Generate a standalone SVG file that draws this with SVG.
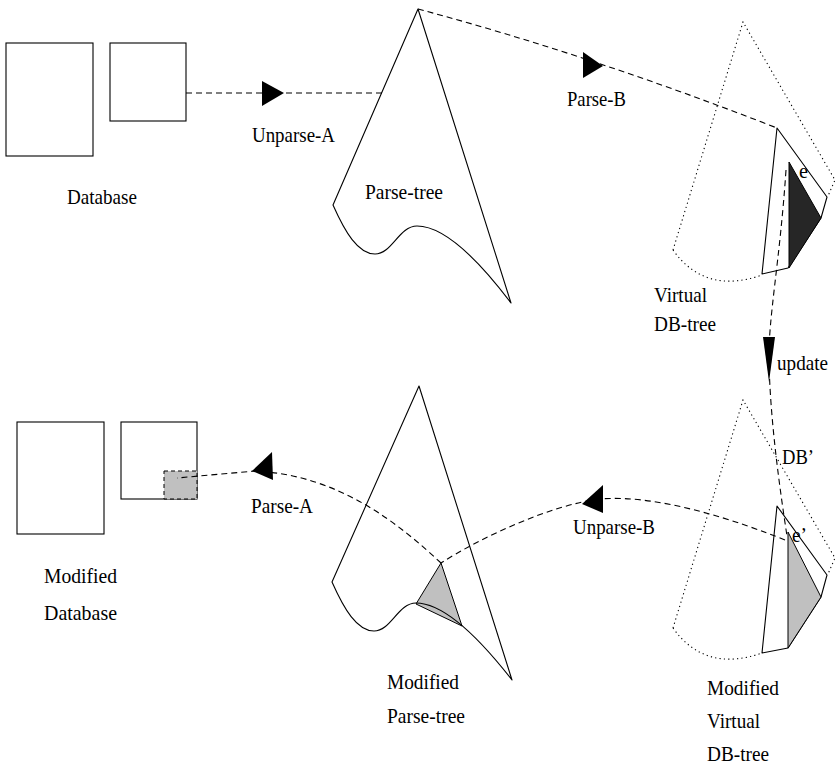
<svg xmlns="http://www.w3.org/2000/svg" width="836" height="769" viewBox="0 0 836 769">
  <style>
    text { font-family: "Liberation Serif", "Times New Roman", serif; font-size: 22px; fill: #000; }
    .box { fill: #fff; stroke: #000; stroke-width: 1.1; }
    .outline { fill: none; stroke: #000; stroke-width: 1.1; stroke-linejoin: round; }
    .strip { fill: #fff; stroke: #000; stroke-width: 1.1; stroke-linejoin: round; }
    .dotted { fill: none; stroke: #000; stroke-width: 1.1; stroke-dasharray: 1.2 3.2; }
    .dash { fill: none; stroke: #000; stroke-width: 1.1; stroke-dasharray: 6 4; }
    .head { fill: #000; stroke: none; }
    .dark { fill: #262626; stroke: #000; stroke-width: 1; }
    .grey { fill: #c0c0c0; stroke: #000; stroke-width: 1; }
  </style>

  <!-- original database: two tables -->
  <g id="database">
    <rect class="box" x="6" y="43" width="87" height="113"/>
    <rect class="box" x="110" y="43" width="76" height="78"/>
    <text x="67" y="204" textLength="70" lengthAdjust="spacingAndGlyphs">Database</text>
  </g>

  <!-- parse tree of the database -->
  <g id="parse-tree">
    <path class="outline" d="M418,9 L333,205 C345,232 358,254 375,254 C392,254 399,226 417,226 C445,226 480,262 511,303 Z"/>
    <text x="365" y="199" textLength="78" lengthAdjust="spacingAndGlyphs">Parse-tree</text>
  </g>

  <!-- virtual DB tree with the updated element e -->
  <g id="virtual-db-tree">
    <path class="dotted" d="M673,250 L743,22 L835,180 L828,196"/>
    <path class="dotted" d="M673,250 Q705,295 762,275"/>
    <path class="strip" d="M777,128 L827,197 L821,218 L788,268 L762,274 Z"/>
    <path class="dark" d="M789,162 L821,218 L789,268 Z"/>
    <text x="799" y="178" textLength="9" lengthAdjust="spacingAndGlyphs">e</text>
    <text x="654" y="302" textLength="53" lengthAdjust="spacingAndGlyphs">Virtual</text>
    <text x="654" y="331" textLength="62" lengthAdjust="spacingAndGlyphs">DB-tree</text>
  </g>

  <!-- modified database with the changed cell -->
  <g id="modified-database">
    <rect class="box" x="17" y="422" width="87" height="112"/>
    <rect class="box" x="121" y="422" width="76" height="77"/>
    <rect class="grey" x="164" y="471" width="33" height="28" stroke-dasharray="4 3"/>
    <text x="44" y="583" textLength="73" lengthAdjust="spacingAndGlyphs">Modified</text>
    <text x="44" y="620" textLength="73" lengthAdjust="spacingAndGlyphs">Database</text>
  </g>

  <!-- modified parse tree -->
  <g id="modified-parse-tree">
    <path class="grey" d="M441,563 L416,604 L462,626 Z"/>
    <path class="outline" d="M419,386 L332,582 C344,609 357,631 374,631 C391,631 398,603 416,603 C444,603 480,639 512,680 Z"/>
    <text x="387" y="689" textLength="72" lengthAdjust="spacingAndGlyphs">Modified</text>
    <text x="387" y="723" textLength="78" lengthAdjust="spacingAndGlyphs">Parse-tree</text>
  </g>

  <!-- modified virtual DB tree with element e' -->
  <g id="modified-virtual-db-tree">
    <path class="dotted" d="M673,628 L743,400 L835,558 L828,574"/>
    <path class="dotted" d="M673,628 Q705,673 762,653"/>
    <path class="strip" d="M777,506 L827,575 L821,597 L788,648 L762,653 Z"/>
    <path class="grey" d="M788,532 L821,597 L788,648 Z"/>
    <text x="792" y="542" textLength="15" lengthAdjust="spacingAndGlyphs">e’</text>
    <text x="707" y="695" textLength="72" lengthAdjust="spacingAndGlyphs">Modified</text>
    <text x="707" y="728" textLength="53" lengthAdjust="spacingAndGlyphs">Virtual</text>
    <text x="707" y="761" textLength="62" lengthAdjust="spacingAndGlyphs">DB-tree</text>
  </g>

  <!-- transformations between the representations -->
  <g id="connectors">
    <path class="dash" d="M186,93 L382,93"/>
    <polygon class="head" points="262,81 284,93 262,106"/>
    <text x="252" y="142" textLength="83" lengthAdjust="spacingAndGlyphs">Unparse-A</text>

    <path class="dash" d="M418,9 Q590,55 777,128"/>
    <polygon class="head" points="583,52 603,66 583,78"/>
    <text x="567" y="106" textLength="59" lengthAdjust="spacingAndGlyphs">Parse-B</text>

    <path class="dash" d="M786,170 C780,260 768,320 769,360 C770,420 780,490 787,536"/>
    <polygon class="head" points="763,337 775,337 769,382"/>
    <text x="777" y="370" textLength="51" lengthAdjust="spacingAndGlyphs">update</text>
    <text x="782" y="464" textLength="32" lengthAdjust="spacingAndGlyphs">DB’</text>

    <path class="dash" d="M785,540 C740,522 660,494 600,499 C550,505 480,538 441,563"/>
    <polygon class="head" points="582,504 603,485 603,513"/>
    <text x="573" y="534" textLength="82" lengthAdjust="spacingAndGlyphs">Unparse-B</text>

    <path class="dash" d="M441,563 C400,525 340,475 255,471 L177,478"/>
    <polygon class="head" points="252,471 272,452 273,480"/>
    <text x="251" y="513" textLength="62" lengthAdjust="spacingAndGlyphs">Parse-A</text>
  </g>
</svg>
